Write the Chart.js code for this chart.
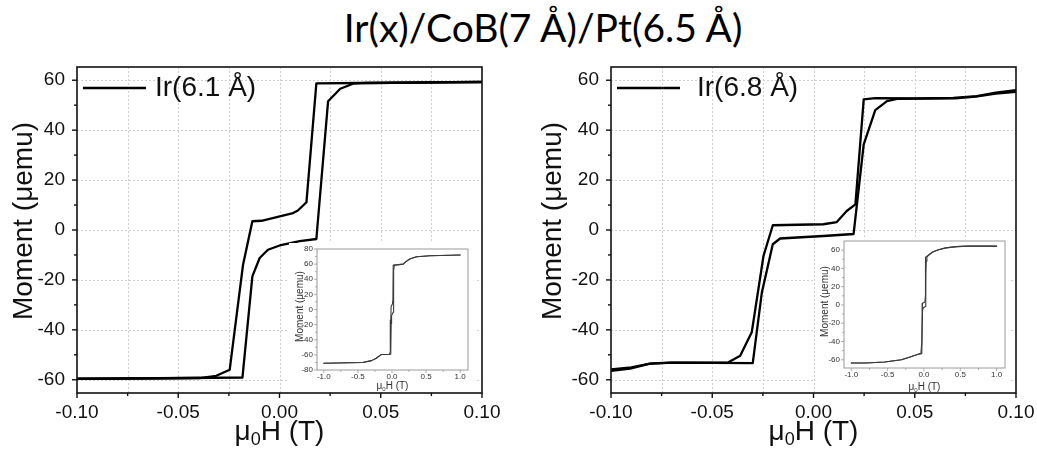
<!DOCTYPE html>
<html>
<head>
<meta charset="utf-8">
<script src="https://cdn.jsdelivr.net/npm/chart.js@4.4.1/dist/chart.umd.min.js"></script>
<style>
  body { margin: 0; background: #fff; }
  #fig { position: relative; width: 1037px; height: 457px; overflow: hidden; background: #fff; }
  #fig canvas { position: absolute; }
  #title { position: absolute; left: 543px; top: 8px; transform: translateX(-50%); white-space: nowrap;
           font-family: Lato, 'Open Sans', sans-serif; font-size: 39px; line-height: 39px; color: #000; }
  .inset { background: #fff; }
</style>
</head>
<body>
<div id="fig">
  <div id="title">Ir(x)/CoB(7 Å)/Pt(6.5 Å)</div>
  <canvas id="main61" width="520" height="402" style="left:0;top:55px"></canvas>
  <canvas id="main68" width="517" height="402" style="left:520px;top:55px"></canvas>
  <canvas id="inset61" class="inset" width="186" height="149" style="left:289px;top:243px"></canvas>
  <canvas id="inset68" class="inset" width="196" height="154" style="left:815px;top:238px"></canvas>
</div>
<script>
// ---- Ir(6.1 Å), low field sweep (T, µemu) ----
var h61Down = [0.100, 0.070, 0.040, 0.0182, 0.0133, 0.0091, 0.0067, -0.0089, -0.0134, -0.0180, -0.0246, -0.0312, -0.0394, -0.0700, -0.1000];
var m61Down = [59.3, 59.1, 58.9, 58.7, 11.1, 7.8, 6.8, 3.7, 3.5, -13.9, -56.0, -58.4, -59.3, -59.5, -59.6];
var h61Up = [-0.1000, -0.0600, -0.0183, -0.0134, -0.0098, -0.0057, 0.0001, 0.0100, 0.0182, 0.0240, 0.0300, 0.0363, 0.0430, 0.0700, 0.1000];
var m61Up = [-59.6, -59.4, -59.1, -18.6, -11.2, -7.9, -6.2, -4.5, -3.6, 51.6, 56.6, 58.6, 58.9, 59.1, 59.3];

// ---- Ir(6.8 Å), low field sweep ----
var h68Down = [0.1000, 0.0900, 0.0807, 0.0690, 0.0500, 0.0305, 0.0248, 0.0207, 0.0164, 0.0115, 0.0049, -0.0201, -0.0247, -0.0305, -0.0362, -0.0420, -0.0700, -0.0814, -0.0905, -0.1000];
var m68Down = [56.0, 55.0, 53.6, 52.9, 52.7, 52.8, 52.3, 10.3, 7.6, 3.2, 2.3, 1.9, -10.4, -41.0, -50.4, -53.0, -53.1, -53.6, -55.5, -56.4];
var h68Up = [-0.1000, -0.0900, -0.0800, -0.0700, -0.0300, -0.0255, -0.0201, -0.0165, -0.0081, 0.0049, 0.0198, 0.0248, 0.0305, 0.0363, 0.0412, 0.0700, 0.0800, 0.0900, 0.1000];
var m68Up = [-55.8, -55.0, -53.4, -53.1, -53.3, -25.0, -5.7, -3.4, -3.0, -2.4, -1.6, 34.3, 48.0, 51.6, 52.5, 52.7, 53.4, 54.6, 55.3];

// ---- full sweeps +-1 T (insets) ----
var hIn61Down = [1.00, 0.56, 0.36, 0.26, 0.20, 0.165, 0.10, 0.018, 0.013, 0.009, -0.013, -0.018, -0.025, -0.04, -0.10, -0.155, -0.18, -0.23, -0.30, -0.43, -1.00];
var mIn61Down = [72.0, 71.0, 69.8, 66.7, 63.0, 60.0, 59.3, 58.7, 11.0, 7.8, 3.5, -13.9, -56.0, -59.3, -59.5, -59.5, -61.0, -64.4, -67.6, -70.0, -71.0];
var hIn61Up = [-1.00, -0.43, -0.30, -0.23, -0.18, -0.155, -0.10, -0.018, -0.013, -0.006, 0.018, 0.024, 0.036, 0.10, 0.165, 0.20, 0.26, 0.36, 0.56, 1.00];
var mIn61Up = [-71.0, -70.0, -67.6, -64.4, -61.0, -59.5, -59.5, -59.1, -18.6, -7.9, -3.6, 51.6, 58.6, 59.3, 60.0, 63.0, 66.7, 69.8, 71.0, 72.0];

var hIn68Down = [1.00, 0.60, 0.45, 0.30, 0.20, 0.12, 0.07, 0.04, 0.025, 0.021, 0.012, -0.020, -0.025, -0.030, -0.042, -0.08, -0.17, -0.31, -0.54, -0.80, -1.00];
var mIn68Down = [64.4, 64.4, 63.8, 62.5, 60.5, 58.0, 55.0, 53.0, 52.3, 10.3, 3.2, 1.9, -10.4, -41.0, -53.0, -54.0, -56.4, -60.0, -62.5, -63.6, -63.6];
var hIn68Up = [-1.00, -0.80, -0.54, -0.31, -0.17, -0.08, -0.030, -0.020, -0.008, 0.020, 0.025, 0.031, 0.041, 0.07, 0.12, 0.20, 0.30, 0.45, 0.60, 1.00];
var mIn68Up = [-63.6, -63.6, -62.5, -60.0, -56.4, -54.0, -53.3, -5.7, -3.0, -1.6, 34.3, 48.0, 52.5, 55.0, 58.0, 60.5, 62.5, 63.8, 64.4, 64.4];

// ---- ticks ----
var mainXMajor = [-0.10, -0.05, 0, 0.05, 0.10];
var mainXMinor = [-0.075, -0.025, 0.025, 0.075];
var mainYMajor = [-60, -40, -20, 0, 20, 40, 60];
var mainYMinor = [-50, -30, -10, 10, 30, 50];
var insetXMajor = [-1.0, -0.5, 0, 0.5, 1.0];
var insetXMinor = [-0.75, -0.25, 0.25, 0.75];
var in61YMajor = [-80, -60, -40, -20, 0, 20, 40, 60, 80];
var in61YMinor = [-70, -50, -30, -10, 10, 30, 50, 70];
var in68YMajor = [-60, -40, -20, 0, 20, 40, 60];
var in68YMinor = [-50, -30, -10, 10, 30, 50];

var FONT = '"Liberation Sans", Arial, sans-serif';
Chart.defaults.font.family = FONT;

function pts(xs, ys) { return xs.map(function(x, i) { return { x: x, y: ys[i] }; }); }
function has(arr, v) { return arr.some(function(a) { return Math.abs(a - v) < 1e-9; }); }
function asTicks(a, b) { return a.concat(b).sort(function(p, q) { return p - q; }).map(function(v) { return { value: v }; }); }

// µ0H (T) with a subscript zero
function drawFieldTitle(ctx, cx, base, size, color) {
  var sub = Math.round(size * 0.64);
  ctx.save();
  ctx.fillStyle = color; ctx.textBaseline = 'alphabetic'; ctx.textAlign = 'left';
  ctx.font = size + 'px ' + FONT; var w1 = ctx.measureText('\u03bc').width, w3 = ctx.measureText('H (T)').width;
  ctx.font = sub + 'px ' + FONT; var w2 = ctx.measureText('0').width;
  var x = cx - (w1 + w2 + w3) / 2;
  ctx.font = size + 'px ' + FONT; ctx.fillText('\u03bc', x, base);
  ctx.font = sub + 'px ' + FONT; ctx.fillText('0', x + w1, base + size * 0.18);
  ctx.font = size + 'px ' + FONT; ctx.fillText('H (T)', x + w1 + w2, base);
  ctx.restore();
}

// ---- grid, frame, tick marks, titles, legend ----
function decor(o) {
  return {
    id: 'decor',
    beforeDatasetsDraw: function(chart) {
      if (!o.grid) return;
      var a = chart.chartArea, ctx = chart.ctx, xs = chart.scales.x, ys = chart.scales.y;
      ctx.save();
      ctx.strokeStyle = '#cfcfcf'; ctx.lineWidth = 1; ctx.setLineDash([2, 2]);
      o.xMajor.concat(o.xMinor).forEach(function(v) {
        var px = Math.round(xs.getPixelForValue(v)) + 0.5;
        if (px <= a.left + 2 || px >= a.right - 2) return;
        ctx.beginPath(); ctx.moveTo(px, a.top); ctx.lineTo(px, a.bottom); ctx.stroke();
      });
      o.yMajor.forEach(function(v) {
        var py = Math.round(ys.getPixelForValue(v)) + 0.5;
        ctx.beginPath(); ctx.moveTo(a.left, py); ctx.lineTo(a.right, py); ctx.stroke();
      });
      ctx.restore();
    },
    afterDraw: function(chart) {
      var a = chart.chartArea, ctx = chart.ctx, xs = chart.scales.x, ys = chart.scales.y;
      ctx.save();
      ctx.strokeStyle = o.frameColor; ctx.lineWidth = o.frameWidth;
      ctx.strokeRect(a.left, a.top, a.right - a.left, a.bottom - a.top);
      ctx.lineWidth = o.tickWidth;
      function xt(v, len) { var px = xs.getPixelForValue(v); ctx.beginPath(); ctx.moveTo(px, a.bottom); ctx.lineTo(px, a.bottom + len); ctx.stroke(); }
      function yt(v, len) { var py = ys.getPixelForValue(v); ctx.beginPath(); ctx.moveTo(a.left, py); ctx.lineTo(a.left - len, py); ctx.stroke(); }
      o.xMajor.forEach(function(v) { xt(v, o.majorLen); });
      o.xMinor.forEach(function(v) { xt(v, o.minorLen); });
      o.yMajor.forEach(function(v) { yt(v, o.majorLen); });
      o.yMinor.forEach(function(v) { yt(v, o.minorLen); });

      // axis titles
      ctx.fillStyle = o.textColor;
      ctx.font = o.titleSize + 'px ' + FONT;
      ctx.textAlign = 'center'; ctx.textBaseline = 'middle';
      ctx.translate(o.yTitleX, (a.top + a.bottom) / 2 + o.yTitleDy);
      ctx.rotate(-Math.PI / 2);
      ctx.fillText('Moment (\u03bcemu)', 0, 0);
      ctx.restore();
      drawFieldTitle(ctx, (a.left + a.right) / 2, o.xTitleY, o.titleSize, o.textColor);

      if (o.legend) {
        var L = o.legend, y = a.top + L.y;
        ctx.save();
        ctx.strokeStyle = o.lineColor; ctx.lineWidth = o.lineWidth;
        ctx.beginPath(); ctx.moveTo(a.left + L.x0, y); ctx.lineTo(a.left + L.x1, y); ctx.stroke();
        ctx.fillStyle = o.textColor; ctx.font = L.size + 'px ' + FONT;
        ctx.textAlign = 'left'; ctx.textBaseline = 'middle';
        ctx.fillText(chart.data.datasets[0].label, a.left + L.tx, y);
        ctx.restore();
      }
    }
  };
}

function buildLoop(canvasId, sets, o) {
  var cv = document.getElementById(canvasId);
  var W = cv.width, H = cv.height;
  return new Chart(cv.getContext('2d'), {
    type: 'line',
    data: {
      datasets: sets.map(function(s) {
        return { label: s.label, data: pts(s.h, s.m), borderColor: o.lineColor, borderWidth: o.lineWidth,
                 pointRadius: 0, tension: 0, fill: false, borderJoinStyle: 'round', borderCapStyle: 'round' };
      })
    },
    options: {
      responsive: false, animation: false, events: [],
      layout: { padding: { left: 0, top: o.box.top, right: W - o.box.right, bottom: 0 } },
      plugins: { legend: { display: false }, tooltip: { enabled: false } },
      scales: {
        x: {
          type: 'linear', min: o.xMin, max: o.xMax,
          afterFit: function(s) { s.height = H - o.box.bottom; s.paddingLeft = 0; s.paddingRight = 0; },
          afterBuildTicks: function(s) { s.ticks = asTicks(o.xMajor, o.xMinor); },
          grid: { display: false, drawTicks: false }, border: { display: false },
          ticks: { autoSkip: false, maxRotation: 0, padding: o.xPad, color: o.textColor, font: { size: o.tickSize },
                   callback: function(v) { return has(o.xMajor, v) ? v.toFixed(o.xDec) : ''; } }
        },
        y: {
          type: 'linear', min: o.yMin, max: o.yMax,
          afterFit: function(s) { s.width = o.box.left; s.paddingTop = 0; s.paddingBottom = 0; },
          afterBuildTicks: function(s) { s.ticks = asTicks(o.yMajor, o.yMinor); },
          grid: { display: false, drawTicks: false }, border: { display: false },
          ticks: { autoSkip: false, padding: o.yPad, color: o.textColor, font: { size: o.tickSize },
                   callback: function(v) { return has(o.yMajor, v) ? String(v) : ''; } }
        }
      }
    },
    plugins: [decor(o)]
  });
}

function mainOpts(box, legend, yTitleX) {
  return {
    box: box, xMin: -0.1, xMax: 0.1, yMin: -65.3, yMax: 65.3, xDec: 2,
    xMajor: mainXMajor, xMinor: mainXMinor, yMajor: mainYMajor, yMinor: mainYMinor,
    lineColor: '#000', lineWidth: 2.3, frameColor: '#111', frameWidth: 1.6, tickWidth: 1.4,
    majorLen: 5, minorLen: 3, grid: true, textColor: '#111', tickSize: 19, xPad: 8, yPad: 12,
    titleSize: 28, yTitleX: yTitleX, yTitleDy: -9, xTitleY: 385, legend: legend
  };
}

function insetOpts(box, yMin, yMax, yMajor, yMinor, yTitleX, xTitleY) {
  return {
    box: box, xMin: -1.1, xMax: 1.115, yMin: yMin, yMax: yMax, xDec: 1,
    xMajor: insetXMajor, xMinor: insetXMinor, yMajor: yMajor, yMinor: yMinor,
    lineColor: '#3a3a3a', lineWidth: 1.1, frameColor: '#9a9a9a', frameWidth: 1, tickWidth: 0.8,
    majorLen: 3, minorLen: 2, grid: false, textColor: '#333', tickSize: 8, xPad: 2, yPad: 4,
    titleSize: 10, yTitleX: yTitleX, yTitleDy: -3, xTitleY: xTitleY, legend: null
  };
}

buildLoop('main61', [{ label: 'Ir(6.1 \u00c5)', h: h61Down, m: m61Down }, { label: 'Ir(6.1 \u00c5)', h: h61Up, m: m61Up }],
  mainOpts({ left: 77, right: 482, top: 12, bottom: 338 }, { x0: 6, x1: 69, tx: 78, y: 21, size: 28 }, 24));

buildLoop('main68', [{ label: 'Ir(6.8 \u00c5)', h: h68Down, m: m68Down }, { label: 'Ir(6.8 \u00c5)', h: h68Up, m: m68Up }],
  mainOpts({ left: 91, right: 496, top: 12, bottom: 338 }, { x0: 6, x1: 69, tx: 86, y: 21, size: 28 }, 33));

buildLoop('inset61', [{ label: 'full', h: hIn61Down, m: mIn61Down }, { label: 'full', h: hIn61Up, m: mIn61Up }],
  insetOpts({ left: 28, right: 179, top: 6, bottom: 127 }, -80, 80, in61YMajor, in61YMinor, 11, 146));

buildLoop('inset68', [{ label: 'full', h: hIn68Down, m: mIn68Down }, { label: 'full', h: hIn68Up, m: mIn68Up }],
  insetOpts({ left: 29, right: 190, top: 3, bottom: 130 }, -69, 70, in68YMajor, in68YMinor, 10, 152));
</script>
</body>
</html>
